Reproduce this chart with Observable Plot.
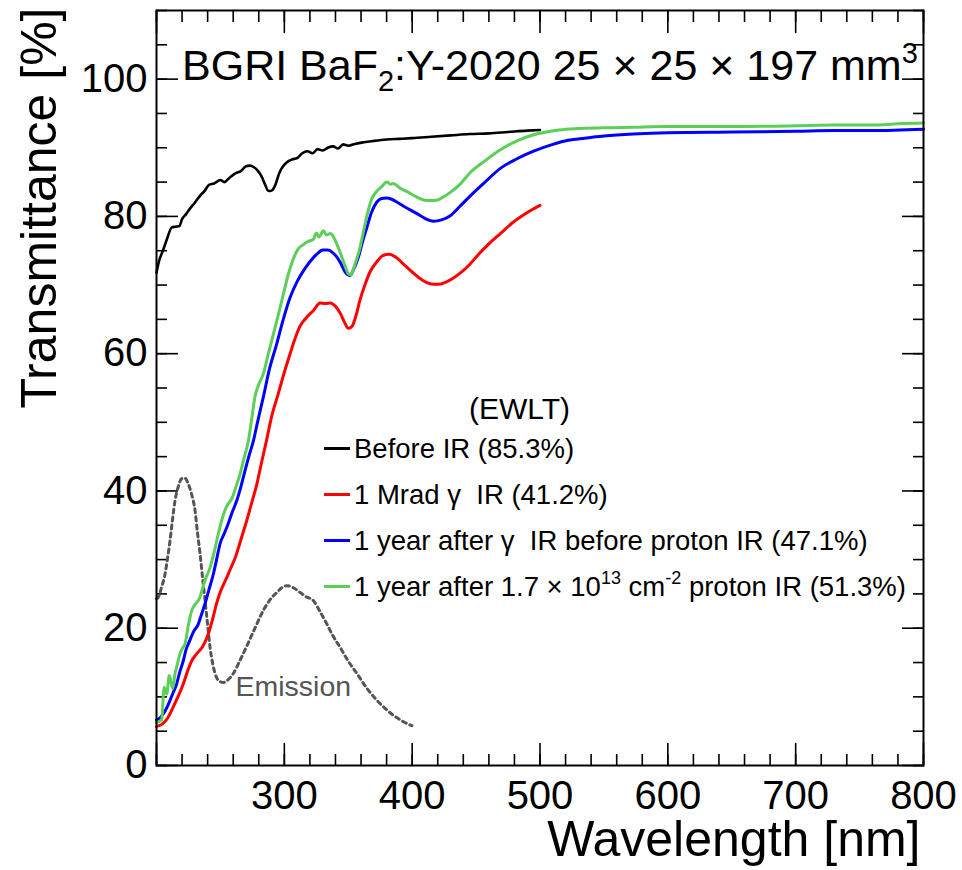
<!DOCTYPE html>
<html>
<head>
<meta charset="utf-8">
<script src="https://cdn.jsdelivr.net/npm/d3@7"></script>
<script src="https://cdn.jsdelivr.net/npm/@observablehq/plot@0.6"></script>
<style>
  html, body { margin: 0; padding: 0; background: #ffffff; }
  #chart svg { display: block; }
</style>
</head>
<body>
<div id="chart"></div>
<script>
const FONT = '"Liberation Sans", Arial, Helvetica, sans-serif';

// ---- data: [wavelength nm, transmittance %] ----
const beforeIR = [[200,71.8],[202,73.5],[205,75.0],[208,76.6],[212,78.4],[215,78.5],[218,78.6],[220,79.6],[223,80.3],[226,81.1],[230,82.0],[234,83.0],[238,83.8],[241,84.6],[245,84.8],[250,85.3],[253,85.0],[257,85.6],[262,86.3],[266,86.6],[270,87.3],[273,87.4],[276,87.2],[279,86.7],[282,85.9],[285,84.6],[287,83.8],[289,83.7],[291,83.9],[293,84.6],[296,86.3],[299,87.3],[302,87.9],[306,88.3],[310,88.5],[314,89.2],[318,89.5],[322,89.2],[326,89.8],[330,89.6],[334,90.0],[338,90.2],[342,89.9],[346,90.5],[350,90.3],[356,90.6],[362,90.8],[370,91.0],[380,91.2],[390,91.3],[400,91.4],[415,91.6],[430,91.8],[445,92.0],[460,92.1],[475,92.3],[490,92.5],[500,92.6]];

const gammaIR = [[200,5.7],[205,6.1],[209,7.0],[213,8.5],[217,10.1],[221,11.9],[224,13.6],[228,15.4],[232,16.4],[236,17.3],[240.6,19.2],[244,21.4],[247,23.6],[250,25.3],[254,27.0],[258,28.7],[262,30.5],[266,32.9],[270.6,35.7],[274.5,38.3],[278.5,41.0],[282,44.0],[286,47.3],[290,50.8],[295,54.0],[300,57.3],[304.5,60.0],[308,62.0],[312,63.9],[317,65.2],[322.8,66.3],[328,67.4],[332,67.3],[336,67.4],[340,66.9],[344,65.8],[347,64.6],[350,63.7],[353,64.0],[356,65.5],[359,67.7],[363,70.0],[367,71.9],[372,73.3],[377,74.3],[382,74.5],[387,74.1],[393,73.1],[400,71.9],[408,70.7],[414,70.2],[420,70.1],[426,70.4],[432,71.0],[438,71.8],[445,73.0],[452,74.5],[460,76.0],[469,77.5],[478,79.0],[487,80.2],[494,81.0],[500,81.6]];

const yearAfterGamma = [[200,6.6],[203,7.0],[205.3,7.5],[208,8.4],[210.6,9.5],[213,10.6],[215.8,11.9],[218,13.5],[221,15.3],[223,16.8],[226,18.2],[229,19.5],[232.7,20.6],[235,21.9],[238,23.6],[241,25.6],[244.5,27.9],[247,30.0],[249.7,32.3],[253,33.8],[256,35.2],[259,36.8],[262.8,38.6],[266,40.6],[269.3,43.0],[272.5,45.2],[275.8,47.3],[279,50.0],[283.6,53.7],[288,57.5],[294,61.4],[299,64.9],[304.5,68.2],[310,70.5],[315,72.1],[320,73.4],[325.4,74.5],[330,75.1],[334,75.1],[338,74.7],[341,74.1],[344,73.2],[347.6,71.9],[351.5,71.4],[354,72.2],[358,74.1],[361,76.2],[364.6,78.4],[368,80.5],[372.4,82.1],[376,82.6],[380,82.7],[384,82.5],[388,82.1],[395,81.3],[403.8,80.4],[410,79.7],[416.8,79.3],[423,79.5],[429.8,80.1],[437,81.4],[445.5,83.0],[457,85.0],[469,87.0],[482,88.4],[495,89.5],[510,90.5],[522,91.1],[535,91.4],[550,91.7],[573,92.0],[600,92.2],[651,92.3],[700,92.4],[730,92.5],[760,92.5],[800,92.7]];

const yearAfterProton = [[200,6.3],[204,6.6],[206,11.4],[208,10.4],[210,13.1],[212.7,11.2],[214.5,13.4],[216,14.5],[218.4,16.3],[220,17.0],[222.3,17.7],[225,20.5],[227.6,22.6],[230,23.4],[234,24.5],[236,25.8],[238,27.0],[242,28.9],[245,31.0],[248.4,33.8],[251,35.7],[253.6,37.2],[256,38.1],[259,38.9],[262,40.5],[265.4,42.5],[268.5,44.8],[271.9,47.3],[274.5,50.5],[277,53.7],[280,55.5],[283.6,57.1],[287.5,60.0],[291.5,62.9],[295.5,65.8],[299.3,68.7],[303,71.5],[307,73.8],[311,75.3],[315,75.9],[318,76.3],[322.8,76.7],[325,77.6],[327,77.0],[330.6,77.9],[333,77.3],[336,77.5],[338.5,77.0],[341,76.0],[345,74.1],[348,72.5],[350.2,71.6],[352,71.5],[355.4,73.1],[359,75.3],[362,77.9],[365,80.4],[368.5,82.6],[372,83.6],[376,84.3],[380.3,85.0],[383,84.7],[385,84.8],[390.7,84.1],[396,83.6],[403.8,82.8],[409,82.4],[414.2,82.3],[420,82.4],[425,82.9],[429.8,83.5],[437,84.6],[445.5,86.4],[457,88.1],[469,89.7],[482,91.0],[495,91.9],[505,92.3],[515,92.6],[530,92.8],[550,92.9],[573,93.0],[600,93.1],[651,93.1],[700,93.2],[730,93.3],[760,93.3],[780,93.5],[800,93.6]];

const emission = [[200,24.3],[201.4,24.5],[204,26.0],[206.7,27.9],[208.5,30.0],[210.6,32.8],[212.5,35.8],[214.5,38.6],[217,40.6],[219.7,41.8],[222,41.9],[224.9,41.0],[227.5,39.5],[230.1,37.2],[232,34.0],[234.1,30.8],[236,27.4],[238,24.0],[240,20.5],[241.9,17.2],[244,14.8],[245.8,13.4],[248.5,12.4],[252.3,12.1],[256,12.5],[260.1,13.4],[265,15.2],[270.6,17.4],[277,20.0],[283.6,22.6],[289,24.2],[294.1,25.2],[298,25.9],[301.9,26.2],[307,25.9],[312.4,25.2],[317,24.6],[322.8,24.0],[328,22.4],[333.3,20.6],[338,18.9],[343.7,17.2],[350,15.2],[356.8,13.4],[364,11.4],[372.4,9.5],[379,8.3],[385.4,7.3],[392,6.5],[399.8,5.8]];

const seriesColors = ["#000000", "#ff0000", "#0000ff", "#5ccf58"];
const seriesData = [beforeIR, gammaIR, yearAfterGamma, yearAfterProton];
const legendLabels = [
  ["Before IR (85.3%)"],
  ["1 Mrad \u03b3\u00a0 IR (41.2%)"],
  ["1 year after \u03b3\u00a0 IR before proton IR (47.1%)"],
  ["1 year after 1.7 \u00d7 10", {sup: "13"}, " cm", {sup: "-2"}, " proton IR (51.3%)"]
];
const legendHeader = "(EWLT)";
const emissionLabel = [{x: 307, y: 11.4, text: "Emission"}];

const xMajor = [200, 300, 400, 500, 600, 700, 800];
const xLabels = [300, 400, 500, 600, 700, 800];
const xMinor = d3.range(200, 801, 20);
const yMajor = [0, 20, 40, 60, 80, 100];
const yMinor = d3.range(0, 111, 5);

const tickStyle = {stroke: "black", strokeWidth: 1.6, text: null, label: null};

const lineMarks = seriesData.map((d, i) =>
  Plot.line(d, {x: p => p[0], y: p => p[1], stroke: seriesColors[i],
    strokeWidth: i === 0 ? 2.6 : 3, curve: "monotone-x"}));

const chart = Plot.plot({
  width: 962,
  height: 870,
  marginLeft: 156,
  marginRight: 39,
  marginTop: 10,
  marginBottom: 105,
  style: {fontFamily: FONT, background: "white", color: "black", overflow: "visible"},
  x: {domain: [200, 800]},
  y: {domain: [0, 110]},
  marks: [
    Plot.axisX({ticks: xMinor, tickSize: -11, ...tickStyle}),
    Plot.axisX({ticks: xMajor, tickSize: -22, ...tickStyle}),
    Plot.axisX({anchor: "top", ticks: xMinor, tickSize: -11, ...tickStyle}),
    Plot.axisX({anchor: "top", ticks: xMajor, tickSize: -22, ...tickStyle}),
    Plot.axisY({ticks: yMinor, tickSize: -11, ...tickStyle}),
    Plot.axisY({ticks: yMajor, tickSize: -22, ...tickStyle}),
    Plot.axisY({anchor: "right", ticks: yMinor, tickSize: -11, ...tickStyle}),
    Plot.axisY({anchor: "right", ticks: yMajor, tickSize: -22, ...tickStyle}),
    Plot.axisX({ticks: xLabels, tickSize: 0, tickPadding: 15, fontSize: 40, label: null, fill: "black"}),
    Plot.axisY({ticks: yMajor, tickSize: 0, tickPadding: 9, fontSize: 40, label: null, fill: "black"}),
    Plot.text(["Wavelength [nm]"], {frameAnchor: "bottom-right", textAnchor: "end", lineAnchor: "bottom",
      dx: -3, dy: 90, fontSize: 50, fill: "black"}),
    Plot.text(["Transmittance [%]"], {frameAnchor: "top-left", textAnchor: "end", lineAnchor: "bottom",
      rotate: -90, dx: -101, dy: -3, fontSize: 50, fill: "black"}),
    Plot.line(emission, {x: p => p[0], y: p => p[1], stroke: "#555555", strokeWidth: 3,
      strokeDasharray: "4,4", curve: "monotone-x"}),
    Plot.text(emissionLabel, {x: "x", y: "y", text: "text", fill: "#555555", fontSize: 28.5}),
    ...lineMarks,
    Plot.frame({stroke: "black", strokeWidth: 2})
  ]
});

document.getElementById("chart").appendChild(chart);

// ---- title inside the frame ----
const svg = d3.select(chart);
const title = svg.append("text")
  .attr("x", 182).attr("y", 80).attr("text-anchor", "start")
  .attr("font-family", FONT).attr("font-size", 43).attr("fill", "black");
title.append("tspan").text("BGRI BaF");
title.append("tspan").attr("dy", 11).attr("font-size", 29).text("2");
title.append("tspan").attr("dy", -11).text(":Y-2020 25 \u00d7 25 \u00d7 197 mm");
title.append("tspan").attr("dy", -17).attr("font-size", 29).text("3");

// ---- legend ----
const lg = svg.append("g").attr("font-family", FONT).attr("font-size", 27.5)
  .attr("fill", "black").attr("text-anchor", "start");
lg.append("text").attr("x", 469).attr("y", 419).attr("font-size", 30).text(legendHeader);
legendLabels.forEach((parts, i) => {
  const base = 458 + i * 46;
  lg.append("line")
    .attr("x1", 324).attr("x2", 350)
    .attr("y1", base - 9.5).attr("y2", base - 9.5)
    .attr("stroke", seriesColors[i]).attr("stroke-width", 3);
  const t = lg.append("text").attr("x", 354).attr("y", base);
  let shifted = false;
  parts.forEach(p => {
    if (typeof p === "string") {
      t.append("tspan").attr("dy", shifted ? 12 : 0).text(p);
      shifted = false;
    } else {
      t.append("tspan").attr("dy", -12).attr("font-size", 18).text(p.sup);
      shifted = true;
    }
  });
});
</script>
</body>
</html>
